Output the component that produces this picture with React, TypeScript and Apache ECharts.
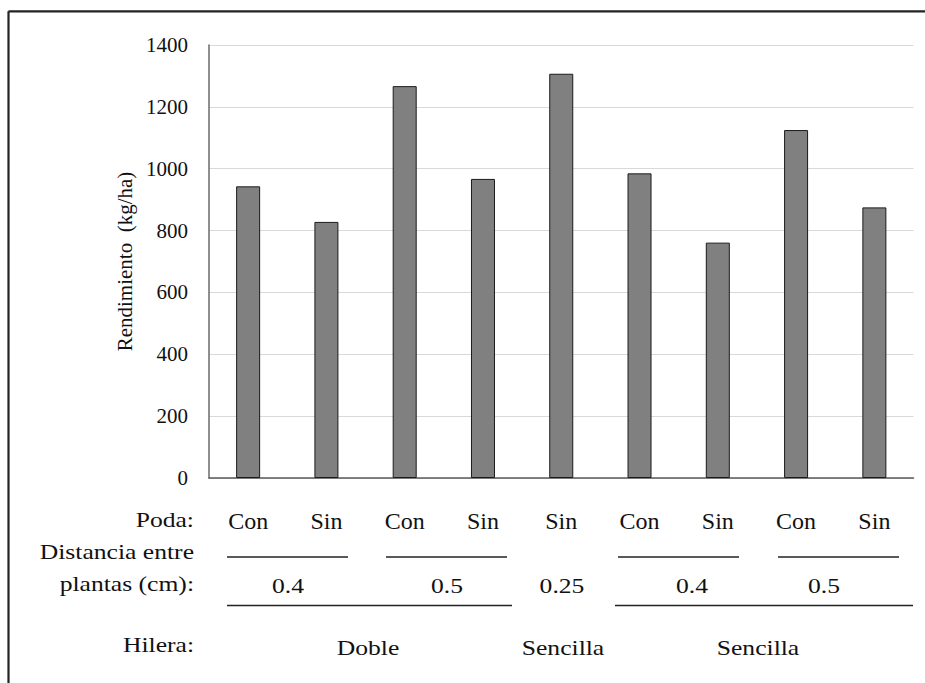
import React, { useEffect, useRef } from "react";
import * as echarts from "echarts";

const categories = ["Con", "Sin", "Con", "Sin", "Sin", "Con", "Sin", "Con", "Sin"];
const yieldValues = [943, 828, 1267, 967, 1307, 985, 761, 1125, 875];
const yTicks = { min: 0, max: 1400, interval: 200 };
const distanceLabels = ["0.4", "0.5", "0.25", "0.4", "0.5"];
const rowLabels = ["Hilera:", "Doble", "Sencilla", "Sencilla"];

const FONT = "Liberation Serif, Times New Roman, serif";

export default function App() {
  const ref = useRef<HTMLDivElement>(null);
  useEffect(() => {
    if (!ref.current) return;
    const chart = echarts.init(ref.current, undefined, { renderer: "svg" });
    const txt = (text: string, x: number, y: number, align: string, size = 21) => ({
      type: "text",
      x,
      y,
      scaleX: 1.22,
      z: 10,
      style: {
        text,
        fill: "#111",
        fontFamily: FONT,
        fontSize: size,
        align,
        verticalAlign: "middle",
      },
    });
    const ln = (x1: number, y1: number, x2: number, y2: number, w = 1.3) => ({
      type: "line",
      z: 10,
      shape: { x1, y1, x2, y2 },
      style: { stroke: "#222", lineWidth: w },
    });
    chart.setOption({
      animation: false,
      backgroundColor: "#fff",
      textStyle: { fontFamily: FONT },
      grid: { left: 209, right: 11.5, top: 45, bottom: 205 },
      xAxis: {
        type: "category",
        data: categories,
        axisLine: { show: true, lineStyle: { color: "#5a5a5a", width: 1.5 } },
        axisTick: { show: false },
        axisLabel: {
          color: "#111",
          fontFamily: FONT,
          fontSize: 24,
          lineHeight: 24,
          margin: 31,
        },
      },
      yAxis: {
        type: "value",
        min: yTicks.min,
        max: yTicks.max,
        interval: yTicks.interval,
        name: "Rendimiento  (kg/ha)",
        nameLocation: "middle",
        nameGap: 72,
        nameTextStyle: { color: "#111", fontFamily: FONT, fontSize: 21 },
        axisLine: { show: true, lineStyle: { color: "#6a6a6a", width: 1.5 } },
        axisTick: { show: false },
        axisLabel: {
          color: "#111",
          fontFamily: FONT,
          fontSize: 21,
          margin: 21,
          formatter: (v: number) => String(v),
        },
        splitLine: { lineStyle: { color: "#d9d9d9", width: 1 } },
      },
      series: [
        {
          type: "bar",
          data: yieldValues,
          barWidth: 24,
          itemStyle: { color: "#808080", borderColor: "#1a1a1a", borderWidth: 1 },
        },
      ],
      graphic: [
        {
          type: "rect",
          z: 5,
          shape: { x: 916, y: 13, width: 20, height: 680 },
          style: { fill: "#fff" },
          silent: true,
        },
        ln(8.5, 11.3, 925, 11.3, 2.2),
        ln(8.5, 11.3, 8.5, 683, 2.2),
        txt("Poda:", 194, 520, "right"),
        txt("Distancia entre", 194, 552, "right"),
        txt("plantas (cm):", 194, 584, "right"),
        txt(rowLabels[0], 194, 645, "right"),
        ln(227, 557, 348, 557),
        ln(386, 557, 507, 557),
        ln(618, 557, 739, 557),
        ln(778, 557, 899, 557),
        ln(227, 605.5, 512, 605.5),
        ln(615, 605.5, 913, 605.5),
        txt(distanceLabels[0], 288, 586, "center"),
        txt(distanceLabels[1], 447, 586, "center"),
        txt(distanceLabels[2], 562, 586, "center"),
        txt(distanceLabels[3], 692, 586, "center"),
        txt(distanceLabels[4], 824, 586, "center"),
        txt(rowLabels[1], 368, 648, "center"),
        txt(rowLabels[2], 563, 648, "center"),
        txt(rowLabels[3], 758, 648, "center"),
      ],
    });
    return () => chart.dispose();
  }, []);
  return (
    <div
      ref={ref}
      style={{ position: "absolute", left: 0, top: 0, width: 925, height: 683, overflow: "hidden" }}
    />
  );
}
